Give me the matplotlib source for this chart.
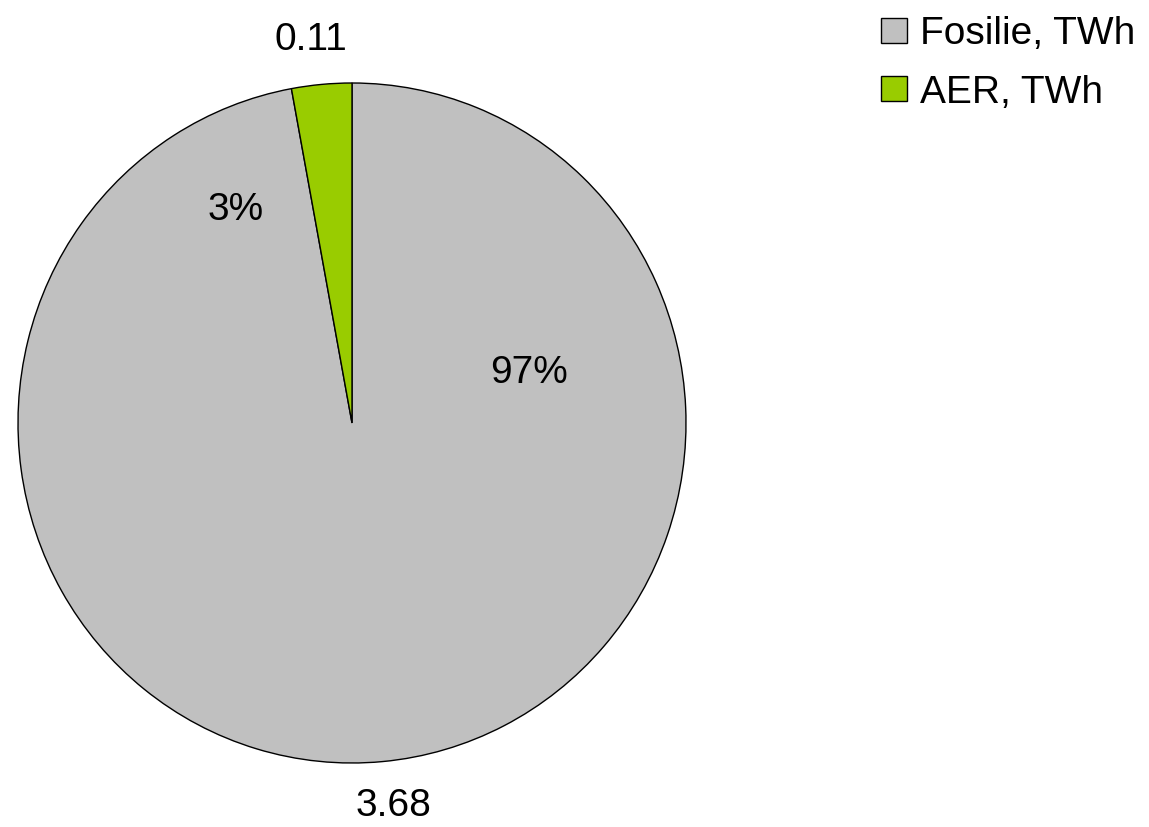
import numpy as np
import matplotlib.pyplot as plt
from matplotlib.patches import Patch

plt.rcParams['font.family'] = ['Liberation Sans', 'DejaVu Sans']

# energy mix, TWh
labels = ['Fosilie, TWh', 'AER, TWh']
values = [3.68, 0.11]
colors = ['#C0C0C0', '#99CC00']
# where the percent labels sit inside the pie (data units)
pct_pos = [(0.53, 0.147), (-0.347, 0.626)]

W, H = 1149, 827
fig = plt.figure(figsize=(W / 100, H / 100), dpi=100)
# pie centre (352, 423) px, radius ~334 x 340 px
ax = fig.add_axes([(352 - 334) / W, (H - 423 - 340) / H, 668 / W, 680 / H])

wedges, _ = ax.pie(values, colors=colors, startangle=90, counterclock=False,
                   wedgeprops=dict(edgecolor='black', linewidth=1.0))
ax.set_aspect('auto')
ax.set_xlim(-1, 1)
ax.set_ylim(-1, 1)

total = sum(values)
for w, v, (px, py) in zip(wedges, values, pct_pos):
    ang = np.deg2rad((w.theta1 + w.theta2) / 2)
    r = 1.13
    ax.text(1.2 * r * np.cos(ang), r * np.sin(ang), f'{v:.2f}', ha='center', va='center',
            fontsize=28, clip_on=False)
    ax.text(px, py, f'{v / total * 100:.0f}%', ha='center', va='center', fontsize=28)

handles = [Patch(facecolor=c, edgecolor='black', linewidth=1.0) for c in colors]
fig.legend(handles, labels, loc='upper left', bbox_to_anchor=(881 / W, 1 - 16 / H),
           frameon=False, fontsize=28, handlelength=0.67, handleheight=0.62,
           handletextpad=0.33, labelspacing=0.58, borderpad=0, borderaxespad=0)

fig.savefig('out.png', dpi=100)
